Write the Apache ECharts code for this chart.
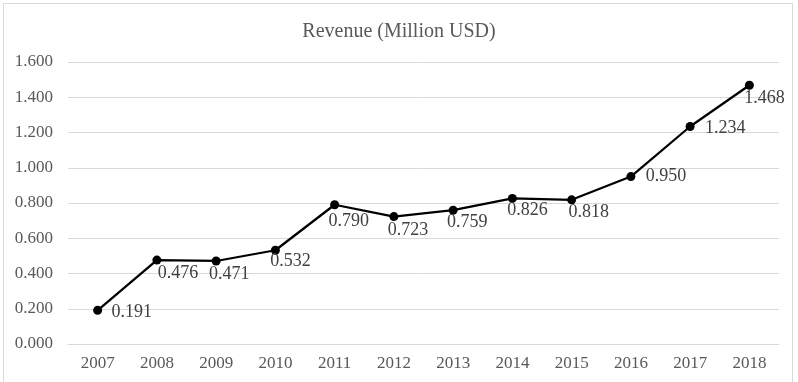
<!DOCTYPE html>
<html>
<head>
<meta charset="utf-8">
<script src="https://cdn.jsdelivr.net/npm/echarts@6/dist/echarts.min.js"></script>
<style>html,body{margin:0;padding:0;background:#fff}#c{width:798px;height:382px}</style>
</head>
<body>
<div id="c"></div>
<script>
var years = ['2007','2008','2009','2010','2011','2012','2013','2014','2015','2016','2017','2018'];
var revenue = [0.191, 0.476, 0.471, 0.532, 0.790, 0.723, 0.759, 0.826, 0.818, 0.950, 1.234, 1.468];
var labelOffsets = [[34,2],[21,13],[13,13],[15,11],[14,17],[14,14],[14,12],[15,12],[17,12],[35,0],[35,2],[15,13]];

var chart = echarts.init(document.getElementById('c'));
var font = '"Liberation Serif", "Times New Roman", serif';
chart.setOption({
  animation: false,
  backgroundColor: '#fff',
  graphic: [{
    type: 'rect', shape: {x: 3.5, y: 3.5, width: 789, height: 390},
    style: {fill: 'none', stroke: '#d9d9d9', lineWidth: 1}, silent: true
  }],
  title: {
    text: 'Revenue (Million USD)', left: 'center', top: 17,
    textStyle: {fontFamily: font, fontSize: 20, fontWeight: 'normal', color: '#595959'}
  },
  grid: {left: 68, right: 19, top: 62, bottom: 38},
  xAxis: {
    type: 'category', data: years, boundaryGap: true,
    axisLine: {show: true, lineStyle: {color: '#d9d9d9'}},
    axisTick: {show: false},
    axisLabel: {fontFamily: font, fontSize: 17, color: '#595959', margin: 11}
  },
  yAxis: {
    type: 'value', min: 0, max: 1.6, interval: 0.2,
    axisLine: {show: false}, axisTick: {show: false},
    splitLine: {lineStyle: {color: '#d9d9d9', width: 1}},
    axisLabel: {fontFamily: font, fontSize: 17, color: '#595959', margin: 15,
      formatter: function (v) { return v.toFixed(3); }}
  },
  series: [{
    type: 'line',
    data: revenue.map(function (v, i) {
      return {value: v, label: {offset: labelOffsets[i]}};
    }),
    lineStyle: {color: '#000', width: 2.25},
    itemStyle: {color: '#000'},
    symbol: 'circle', symbolSize: 9,
    label: {
      show: true, position: 'inside', fontFamily: font, fontSize: 18, color: '#404040',
      formatter: function (p) { return p.value.toFixed(3); }
    }
  }]
});
</script>
</body>
</html>
